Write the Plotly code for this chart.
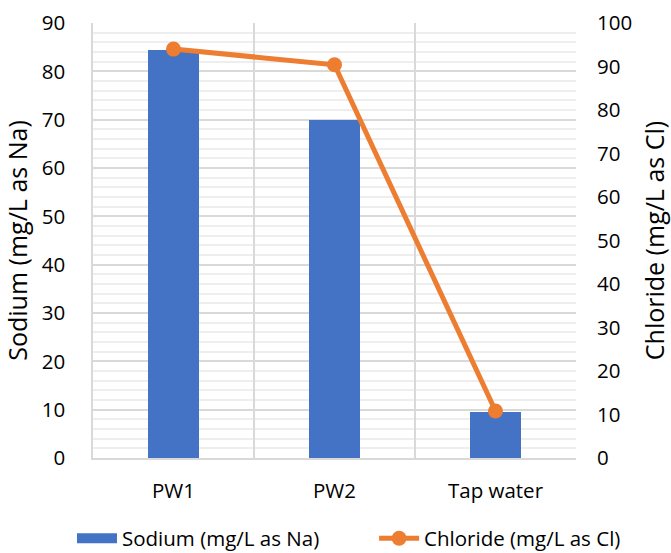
import plotly.graph_objects as go

categories = ["PW1", "PW2", "Tap water"]
sodium = [84.4, 70.0, 9.5]
chloride = [94.0, 90.4, 10.8]

left_ticks = list(range(0, 91, 10))
right_ticks = list(range(0, 101, 10))

FONT = "Open Sans"
FS = 20.5
BLUE = "#4472C4"
ORANGE = "#ED7D31"

fig = go.Figure()
fig.add_trace(go.Bar(
    x=categories, y=sodium, name="Sodium (mg/L as Na)",
    marker=dict(color=BLUE, line=dict(width=0)), width=0.315,
    yaxis="y", showlegend=False, legendgroup="na",
))
# legend-only entry giving a wide bar swatch like the original
fig.add_trace(go.Scatter(
    x=[None], y=[None], name="Sodium (mg/L as Na)", mode="lines",
    line=dict(color=BLUE, width=14), legendgroup="na", hoverinfo="skip",
    legend="legend",
))
fig.add_trace(go.Scatter(
    x=categories, y=chloride, name="Chloride (mg/L as Cl)",
    mode="lines+markers",
    line=dict(color=ORANGE, width=5),
    marker=dict(color=ORANGE, size=15),
    yaxis="y2", legend="legend2",
))

leg_common = dict(orientation="h", y=-0.139, yanchor="top", xanchor="left",
                  font=dict(size=FS), itemwidth=40, bgcolor="rgba(0,0,0,0)")

fig.update_layout(
    width=671, height=553,
    margin=dict(l=93, r=95, t=23, b=95, autoexpand=False),
    paper_bgcolor="white", plot_bgcolor="white",
    font=dict(family=FONT, size=FS, color="#000000"),
    bargap=0,
    showlegend=True,
    legend=dict(x=-0.0435, **leg_common),
    legend2=dict(x=0.582, **leg_common),
    xaxis=dict(
        type="category", range=[-0.5, 2.5], tickson="boundaries",
        showgrid=True, gridcolor="#d9d9d9", gridwidth=1.5,
        showline=True, linecolor="#d9d9d9", linewidth=1.5,
        ticks="", ticklabelstandoff=14, zeroline=False,
    ),
    yaxis=dict(
        range=[0, 90], tickvals=left_ticks,
        showgrid=True, gridcolor="#d9d9d9", gridwidth=1.5,
        minor=dict(dtick=2, showgrid=True, gridcolor="#eeeeee", gridwidth=1.5),
        showline=True, linecolor="#d9d9d9", linewidth=1.5,
        zeroline=False, ticks="", ticklabelstandoff=22,
        title=dict(text="Sodium (mg/L as Na)", standoff=10),
    ),
    yaxis2=dict(
        range=[0, 100], tickvals=right_ticks, overlaying="y", side="right",
        showgrid=False, zeroline=False, showline=False, ticks="",
        ticklabelstandoff=20,
        title=dict(text="Chloride (mg/L as Cl)", standoff=18),
    ),
)

fig.write_html("out.html")
